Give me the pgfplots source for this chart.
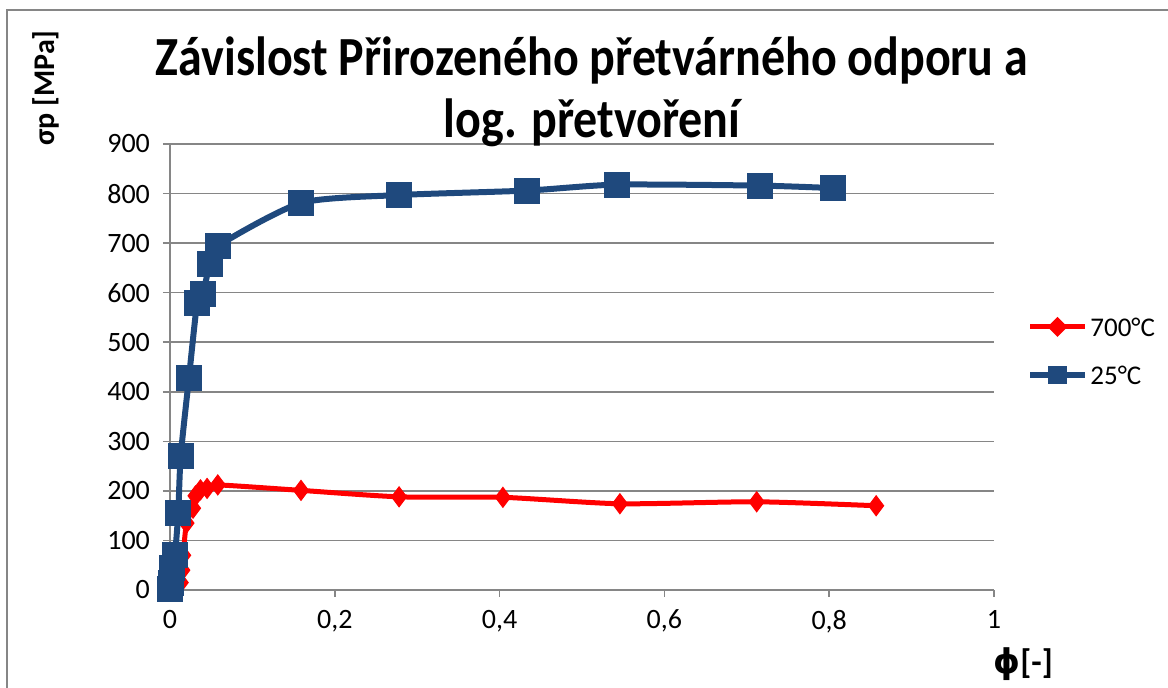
\documentclass[border=0pt]{standalone}
\usepackage{fontspec}
\setmainfont{Carlito}
\newfontfamily\dejavu{DejaVu Sans}
\usepackage{pgfplots}
\pgfplotsset{compat=1.18}
\definecolor{cblue}{HTML}{1F497D}
\definecolor{cred}{HTML}{FF0000}
\definecolor{cgrid}{HTML}{868686}
\begin{document}
\begin{tikzpicture}[x=0.5pt,y=0.5pt]
% page: pixel (0,0)-(1168,688); axis origin at pixel (170,590)
\path[use as bounding box] (-170,-98) rectangle (998,590);
\draw[cgrid,line width=0.8pt] (-163,-98) -- (-163,580) -- (998,580);
\begin{axis}[
  at={(0,0)}, anchor=south west,
  scale only axis, width=412pt, height=223pt,
  xmin=0, xmax=1, ymin=0, ymax=900,
  xtick={0,0.2,0.4,0.6,0.8,1},
  ytick={0,100,...,900},
  xticklabel style={/pgf/number format/use comma,/pgf/number format/fixed},
  /pgf/number format/assume math mode=true,
  axis x line*=bottom, axis y line*=left,
  axis line style={cgrid,line width=0.8pt,-},
  tick align=outside, major tick length=3.5pt,
  tick style={cgrid,line width=0.8pt},
  ymajorgrids, grid style={cgrid,line width=0.8pt},
  tick label style={font=\fontsize{14}{16}\selectfont,black},
  yticklabel style={xshift=-3pt},
  xticklabel style={yshift=-3pt},
  clip=false,
]
\addplot[cred, line width=2.5pt, smooth, tension=0.4, mark=diamond*, mark size=5pt, mark options={solid,fill=cred,draw=cred,line width=0.5pt}] coordinates {
(0,0) (0.013,15) (0.015,40) (0.016,70) (0.02,135) (0.028,165) (0.031,190) (0.037,202) (0.045,205) (0.058,212)
(0.159,201) (0.278,188) (0.404,187) (0.546,174) (0.712,178) (0.857,170)
};
\addplot[cblue, line width=3pt, smooth, tension=0.4, mark=square*, mark size=5pt, mark options={solid,fill=cblue,draw=cblue}] coordinates {
(0,2) (0.001,15) (0.003,45) (0.006,70) (0.01,155) (0.013,270) (0.023,428) (0.033,580) (0.04,597) (0.048,657) (0.058,694)
(0.159,781) (0.278,797) (0.433,806) (0.542,818) (0.716,816) (0.805,811)
};
\end{axis}
% title
\node[font=\bfseries\fontsize{24}{32}\selectfont, align=center, anchor=center] at (422,498) {\scalebox{1}[1.15]{Závislost Přirozeného přetvárného odporu a}\\[-1pt]\scalebox{1}[1.15]{log. přetvoření}};
% y label
\node[font=\bfseries\fontsize{15}{18}\selectfont, rotate=90, anchor=center] at (-124,502) {σp [MPa]};
% x label
\node[font=\bfseries\fontsize{17}{19}\selectfont, anchor=center] at (853,-74) {{\dejavu\bfseries ϕ}[-]};
% legend
\draw[cred, line width=2.5pt] (860,263) -- (915,263);
\fill[cred] (887.5,273) -- (897.5,263) -- (887.5,253) -- (877.5,263) -- cycle;
\node[anchor=west, font=\fontsize{13.5}{16}\selectfont, inner sep=0pt] at (920,263) {700°C};
\draw[cblue, line width=3pt] (860,215) -- (915,215);
\fill[cblue] (878,206) rectangle (897,224);
\node[anchor=west, font=\fontsize{13.5}{16}\selectfont, inner sep=0pt] at (920,215) {25°C};
\end{tikzpicture}
\end{document}
